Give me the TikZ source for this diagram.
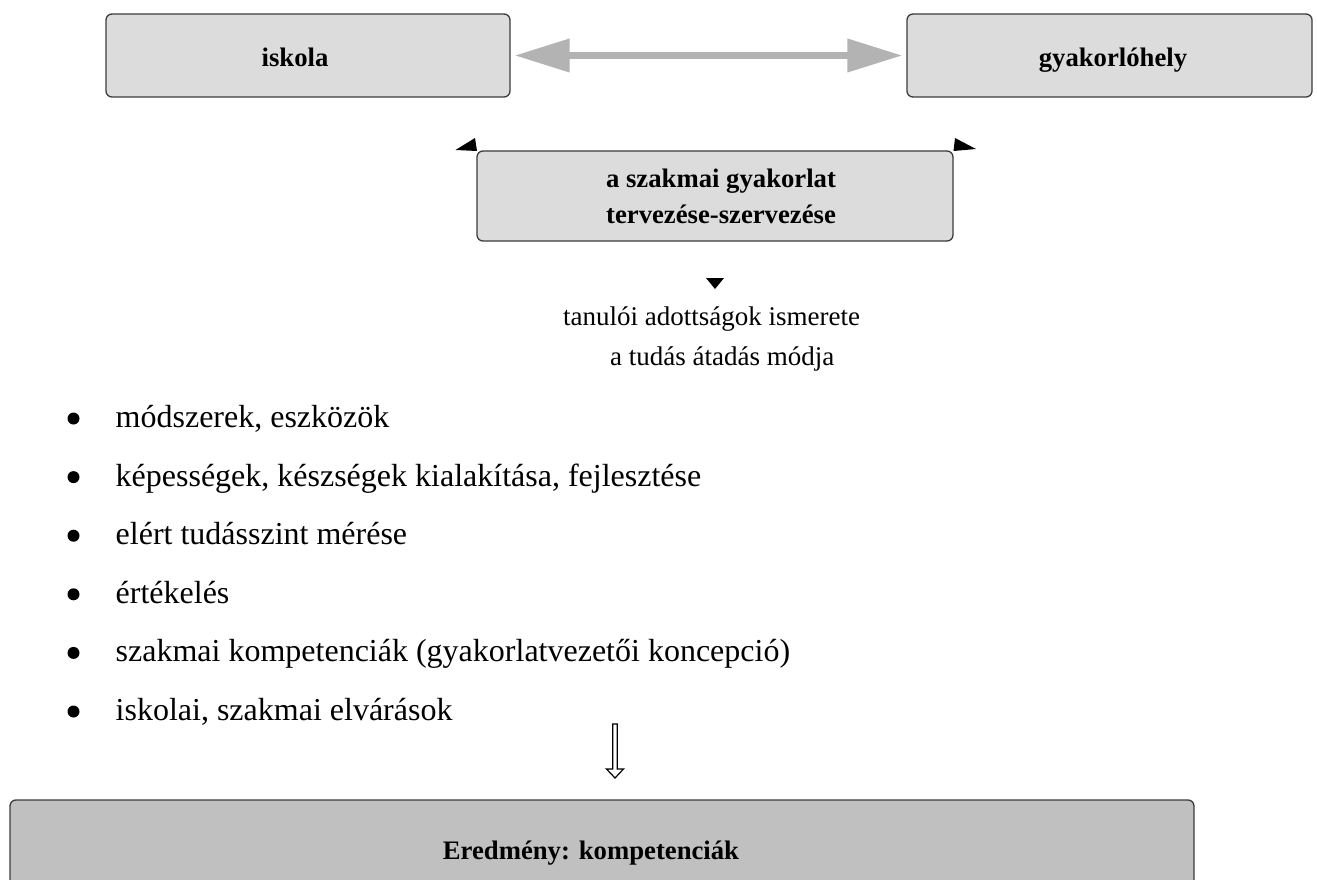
\documentclass[tikz,border=0pt]{standalone}
\usepackage{fontspec}
\setmainfont{Liberation Serif}
\usetikzlibrary{arrows.meta}
\definecolor{boxfill}{HTML}{DCDCDC}
\definecolor{boxline}{HTML}{3C3C3C}
\definecolor{resfill}{HTML}{C0C0C0}
\definecolor{arrgray}{HTML}{B3B3B3}
\begin{document}
\begin{tikzpicture}[x=1pt,y=-1pt,
  box/.style={draw=boxline, line width=1.3pt, fill=boxfill, rounded corners=6pt, inner sep=0pt},
  btext/.style={font=\fontsize{26.7}{36}\selectfont\bfseries, anchor=base, inner sep=0pt},
  ntext/.style={font=\fontsize{27}{32}\selectfont, anchor=base west, inner sep=0pt},
  itemtext/.style={font=\fontsize{32}{38}\selectfont, anchor=base west, inner sep=0pt},
  dot/.style={circle, fill=black, minimum size=12pt, inner sep=0pt},
  headtri/.style={fill=black},
]
\useasboundingbox (0,0) rectangle (1317,880);
\clip (0,0) rectangle (1317,880);
\fill[white] (0,0) rectangle (1317,880);

% top boxes
\node[box, minimum width=404pt, minimum height=83pt] (isk) at (308,55.5) {};
\node[box, minimum width=405pt, minimum height=83pt] (gyak) at (1109.5,55.5) {};
\node[btext] (iskT) at (295,67) {iskola};
\node[btext] (gyakT) at (1113,67) {gyakorlóhely};

% double arrow
\draw[arrgray, line width=7pt, {Triangle[length=55pt,width=32pt]}-{Triangle[length=55pt,width=32pt]}, shorten <=4pt, shorten >=4pt] (isk.east) -- (gyak.west);

% middle box
\node[box, minimum width=476pt, minimum height=90pt] (mid) at (715,196) {};
\node[btext] (midT1) at (721,187) {a szakmai gyakorlat};
\node[btext] (midT2) at (721,223) {tervezése-szervezése};

% small arrowheads at the corners of the middle box
\fill[headtri] (455.5,150) -- (475,138) -- (477,151) -- cycle;
\fill[headtri] (976,149) -- (955,138) -- (953.5,151) -- cycle;
\fill[headtri] (706,278) -- (724,278) -- (715,289) -- cycle;

% texts below
\node[ntext] (t1) at (563,325) {tanulói adottságok ismerete};
\node[ntext] (t2) at (610,365) {a tudás átadás módja};

% bullet list
\node[dot] (d1) at (73.5,418.5) {};
\node[itemtext] (i1) at (115.5,427.5) {módszerek, eszközök};
\node[dot] (d2) at (73.5,477.1) {};
\node[itemtext] (i2) at (115.5,486.1) {képességek, készségek kialakítása, fejlesztése};
\node[dot] (d3) at (73.5,535.7) {};
\node[itemtext] (i3) at (115.5,544.7) {elért tudásszint mérése};
\node[dot] (d4) at (73.5,594.3) {};
\node[itemtext] (i4) at (115.5,603.3) {értékelés};
\node[dot] (d5) at (73.5,652.9) {};
\node[itemtext] (i5) at (115.5,661.9) {szakmai kompetenciák (gyakorlatvezetői koncepció)};
\node[dot] (d6) at (73.5,711.5) {};
\node[itemtext] (i6) at (115.5,720.5) {iskolai, szakmai elvárások};

% hollow down arrow
\draw[line width=1.2pt, fill=white, line join=miter] (612.7,724) -- (612.7,769) -- (606.5,769) -- (615,778) -- (623.5,769) -- (617.3,769) -- (617.3,724) -- cycle;

% result box
\node[box, fill=resfill, minimum width=1184pt, minimum height=110pt] (res) at (602,855) {};
\node[btext] (resT) at (591,859) {Eredmény: kompetenciák};
\end{tikzpicture}
\end{document}
